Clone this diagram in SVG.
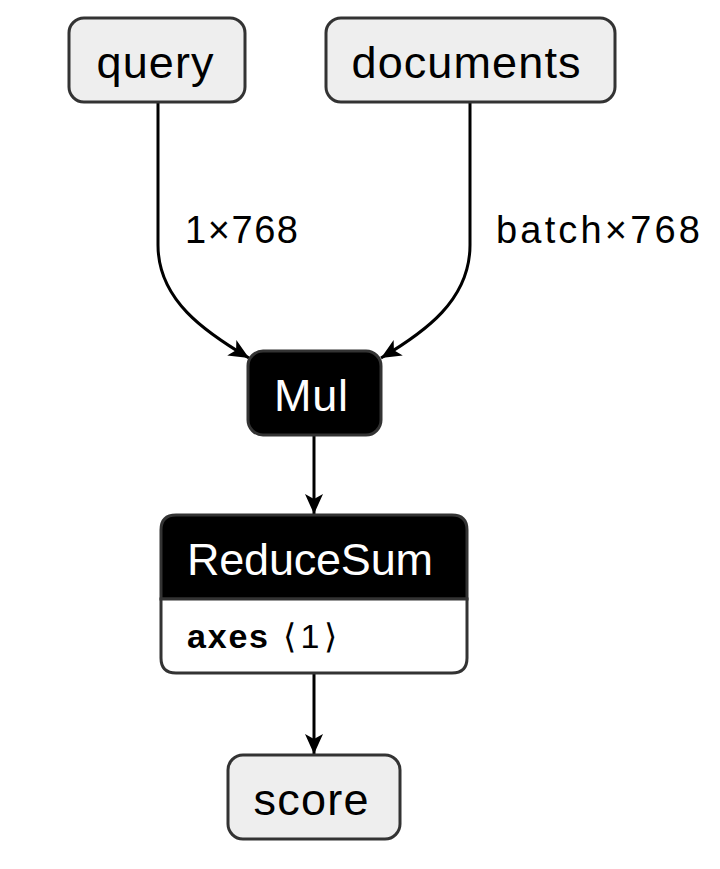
<svg xmlns="http://www.w3.org/2000/svg" width="720" height="869" viewBox="0 0 720 869">
<style>
.box{fill:#eeeeee;stroke:#333333;stroke-width:3}
.dark{fill:#000000;stroke:#333333;stroke-width:3}
.t{font-family:"Liberation Sans",Arial,sans-serif;font-size:45px;fill:#000}
.w{fill:#ffffff}
.lbl{font-family:"Liberation Sans",Arial,sans-serif;font-size:38px;fill:#000}
.attr{font-family:"Liberation Sans",Arial,sans-serif;font-size:34px;fill:#000}
.edge{fill:none;stroke:#000;stroke-width:3}
</style>
<defs>
<marker id="arr" markerUnits="userSpaceOnUse" markerWidth="22" markerHeight="18" refX="20" refY="9" orient="auto">
<path d="M0,0 L20,9 L0,18 L5,9 z" fill="#000"/>
</marker>
</defs>
<rect width="720" height="869" fill="#ffffff"/>
<g id="edges">
<path class="edge" d="M158,102 V245 C158,300 205,332 249,358" marker-end="url(#arr)"/>
<path class="edge" d="M470,102 V245 C470,300 425,332 381,358" marker-end="url(#arr)"/>
<path class="edge" d="M314,435 V514" marker-end="url(#arr)"/>
<path class="edge" d="M314,673 V754" marker-end="url(#arr)"/>
<text class="lbl" x="185" y="243" textLength="113">1×768</text>
<text class="lbl" x="496" y="243" textLength="204">batch×768</text>
</g>
<g id="query">
<rect class="box" x="69" y="18" width="176" height="84" rx="15"/>
<text class="t" x="155" y="78" text-anchor="middle" textLength="117">query</text>
</g>
<g id="documents">
<rect class="box" x="326" y="18" width="289" height="84" rx="15"/>
<text class="t" x="466" y="78" text-anchor="middle" textLength="229">documents</text>
</g>
<g id="mul">
<rect class="dark" x="248" y="351" width="133" height="84" rx="15"/>
<text class="t w" x="311" y="411" text-anchor="middle" textLength="74">Mul</text>
</g>
<g id="reducesum">
<path class="dark" d="M176,515 H452 Q467,515 467,530 V599 H161 V530 Q161,515 176,515 Z"/>
<path d="M161,599 H467 V658 Q467,673 452,673 H176 Q161,673 161,658 Z" fill="#ffffff" stroke="#333333" stroke-width="3"/>
<text class="t w" x="187" y="575" textLength="246">ReduceSum</text>
<text class="attr" x="187" y="648"><tspan font-weight="bold" textLength="81">axes</tspan><tspan x="283" textLength="54">⟨1⟩</tspan></text>
</g>
<g id="score">
<rect class="box" x="228" y="755" width="172" height="84" rx="15"/>
<text class="t" x="311" y="815" text-anchor="middle" textLength="115">score</text>
</g>
</svg>
